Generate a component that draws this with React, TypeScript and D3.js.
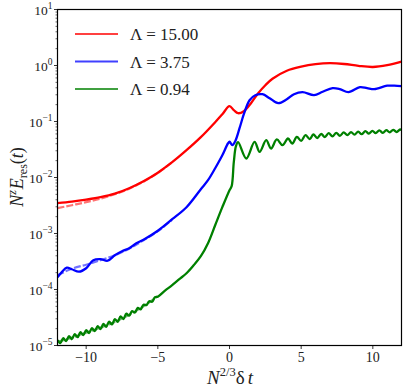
import React, { useEffect } from "react";
import * as d3 from "d3";

// x: N^{2/3} delta t ; values stored as log10(N^z E_res)
const redT = [-12, -11, -10, -9, -8, -7, -6, -5, -4, -3, -2, -1, -0.5, 0, 0.3, 0.6, 1, 1.5, 2, 2.5, 3, 4, 5, 6, 7, 8, 9, 10, 11, 12];
const redLog = [-2.459, -2.432, -2.396, -2.352, -2.289, -2.191, -2.066, -1.914, -1.727, -1.513, -1.28, -1.013, -0.87, -0.727, -0.798, -0.852, -0.816, -0.673, -0.495, -0.352, -0.236, -0.093, -0.021, 0.023, 0.041, 0.027, -0.007, -0.027, 0.005, 0.068];
const redDashT = [-12, -11, -10, -9, -8, -7, -6, -5, -4];
const redDashLog = [-2.548, -2.495, -2.441, -2.379, -2.298, -2.2, -2.075, -1.918, -1.727];

const blueT = [-12, -11.7, -11.35, -11, -10.5, -10, -9.5, -9, -8.5, -8, -7.5, -7, -6.5, -6, -5, -4, -3, -2, -1.5, -1, -0.5, -0.1, 0, 0.2, 0.4, 0.7, 1, 1.4, 1.8, 2.3, 2.8, 3.4, 4, 4.5, 5.1, 5.9, 6.5, 7.2, 7.7, 8.3, 9.1, 9.6, 10.1, 11, 11.5, 12];
const blueLog = [-3.78, -3.69, -3.611, -3.638, -3.682, -3.62, -3.477, -3.459, -3.486, -3.388, -3.316, -3.263, -3.173, -3.11, -2.95, -2.745, -2.53, -2.209, -2.048, -1.834, -1.602, -1.388, -1.361, -1.423, -1.352, -1.12, -0.87, -0.62, -0.53, -0.513, -0.584, -0.673, -0.602, -0.513, -0.477, -0.53, -0.468, -0.405, -0.423, -0.477, -0.387, -0.405, -0.423, -0.361, -0.361, -0.37];
const blueDashT = [-12, -11, -10, -9, -8, -7, -6, -5, -4];
const blueDashLog = [-3.745, -3.629, -3.557, -3.477, -3.388, -3.271, -3.12, -2.959, -2.754];

const greenT = [
  -12, -11.8, -11.6, -11.4, -11.2, -11, -10.8, -10.6, -10.4, -10.2, -10, -9.8, -9.6, -9.4, -9.2, -9,
  -8.8, -8.6, -8.4, -8.2, -8, -7.8, -7.6, -7.4, -7.2, -7, -6.8, -6.6, -6.4, -6.2, -6, -5.8, -5.6, -5.4, -5.2, -5,
  -4.5, -4, -3.5, -3, -2.5, -2, -1.5, -1, -0.5, 0, 0.15, 0.3, 0.45, 0.6,
  1.17, 1.75, 2.1, 2.56, 2.9, 3.3, 3.7, 4.08, 4.38, 4.7, 5.0, 5.3, 5.6, 5.85, 6.12, 6.4, 6.65, 6.92, 7.18,
  7.45, 7.7, 7.97, 8.22, 8.48, 8.72, 8.98, 9.22, 9.48, 9.72, 9.97, 10.2, 10.45, 10.7, 10.94, 11.18, 11.42, 11.66, 11.9, 12,
];
const greenLog = [
  -4.905, -4.959, -4.87, -4.923, -4.834, -4.888, -4.798, -4.852, -4.763, -4.816, -4.727, -4.78, -4.691, -4.745, -4.655, -4.709,
  -4.616, -4.666, -4.573, -4.623, -4.53, -4.577, -4.48, -4.527, -4.43, -4.468, -4.386, -4.411, -4.329, -4.354, -4.271, -4.28, -4.209, -4.218, -4.138, -4.129,
  -4.021, -3.923, -3.816, -3.709, -3.566, -3.405, -3.173, -2.852, -2.53, -2.227, -2.155, -1.727, -1.441, -1.37,
  -1.661, -1.364, -1.543, -1.334, -1.482, -1.321, -1.423, -1.304, -1.393, -1.275, -1.346, -1.245, -1.313, -1.23, -1.295, -1.22, -1.28, -1.209, -1.266,
  -1.202, -1.255, -1.195, -1.245, -1.188, -1.236, -1.18, -1.227, -1.173, -1.216, -1.166, -1.209, -1.159, -1.202, -1.154, -1.195, -1.148, -1.188, -1.143, -1.155,
];
const greenDashT = [-12, -11, -10, -9, -8, -7, -6, -5];
const greenDashLog = [-4.93, -4.86, -4.77, -4.68, -4.58, -4.45, -4.3, -4.12];

const series = [
  { label: "15.00", color: "#ff0000", t: redT, v: redLog, dt: redDashT, dv: redDashLog },
  { label: "3.75", color: "#0000ff", t: blueT, v: blueLog, dt: blueDashT, dv: blueDashLog },
  { label: "0.94", color: "#008000", t: greenT, v: greenLog, dt: greenDashT, dv: greenDashLog },
];

const xTicks = [-10, -5, 0, 5, 10];
const yDecades = [1, 0, -1, -2, -3, -4, -5];

const W = 407, H = 388;
const M = { left: 57.5, top: 9.5, right: 5.5, bottom: 42.5 };
const FONT = "'Liberation Serif', 'DejaVu Serif', serif";

export default function App() {
  useEffect(() => {
    document.body.style.margin = "0";
  }, []);

  const x = d3.scaleLinear().domain([-12, 12]).range([M.left, W - M.right]);
  const y = d3.scaleLog().domain([1e-5, 10]).range([H - M.bottom, M.top]);
  const line = d3
    .line<[number, number]>()
    .x((d) => x(d[0]))
    .y((d) => y(Math.pow(10, d[1])))
    .curve(d3.curveCatmullRom);

  const minor: number[] = [];
  yDecades.slice(1).forEach((e) => {
    for (let k = 2; k <= 9; k++) minor.push(k * Math.pow(10, e));
  });

  const x0 = M.left, x1 = W - M.right, y0 = M.top, y1 = H - M.bottom;

  return (
    <svg width={W} height={H} style={{ display: "block", background: "#fff" }} fontFamily={FONT}>
      <defs>
        <clipPath id="plot">
          <rect x={x0} y={y0} width={x1 - x0} height={y1 - y0} />
        </clipPath>
      </defs>
      <g clipPath="url(#plot)" fill="none">
        {series.map((s) => (
          <g key={s.label}>
            <path
              d={line(s.dt.map((t, i) => [t, s.dv[i]]) as [number, number][]) || ""}
              stroke={s.color}
              strokeWidth={2.2}
              strokeOpacity={0.55}
              strokeDasharray="7,2"
            />
            <path
              d={line(s.t.map((t, i) => [t, s.v[i]]) as [number, number][]) || ""}
              stroke={s.color}
              strokeWidth={2.3}
              strokeLinejoin="round"
            />
          </g>
        ))}
      </g>

      {/* frame */}
      <rect x={x0} y={y0} width={x1 - x0} height={y1 - y0} fill="none" stroke="#000" strokeWidth={1.2} />

      {/* x ticks */}
      {xTicks.map((t) => (
        <g key={t}>
          <line x1={x(t)} x2={x(t)} y1={y1} y2={y1 + 3.5} stroke="#000" strokeWidth={0.8} />
          <text x={x(t)} y={y1 + 16} textAnchor="middle" fontSize={14} fill="#222">
            {t < 0 ? "\u2212" + Math.abs(t) : t}
          </text>
        </g>
      ))}

      {/* y ticks */}
      {minor.map((v, i) => (
        <line key={"m" + i} x1={x0 - 2} x2={x0} y1={y(v)} y2={y(v)} stroke="#000" strokeWidth={0.6} />
      ))}
      {yDecades.map((e) => (
        <g key={e}>
          <line x1={x0 - 3.5} x2={x0} y1={y(Math.pow(10, e))} y2={y(Math.pow(10, e))} stroke="#000" strokeWidth={0.8} />
          <text x={x0 - 5} y={y(Math.pow(10, e)) + 5} textAnchor="end" fontSize={13.5} fill="#222">
            10
            <tspan dy={-6} fontSize={9.5}>{e < 0 ? "\u2212" + Math.abs(e) : e}</tspan>
          </text>
        </g>
      ))}

      {/* axis labels */}
      <text x={230} y={384} textAnchor="middle" fontSize={19} fill="#222">
        <tspan fontStyle="italic">N</tspan>
        <tspan dy={-8} fontSize={12.5}>2/3</tspan>
        <tspan dy={8}>δ</tspan>
        <tspan fontStyle="italic" dx={3}>t</tspan>
      </text>
      <text transform="translate(23,177) rotate(-90)" textAnchor="middle" fontSize={18} fill="#222">
        <tspan fontStyle="italic">N</tspan>
        <tspan dy={-7} fontSize={12} fontStyle="italic">z</tspan>
        <tspan dy={7} fontStyle="italic" dx={1}>E</tspan>
        <tspan dy={4} fontSize={12}>res</tspan>
        <tspan dy={-4}>(</tspan>
        <tspan fontStyle="italic">t</tspan>
        <tspan>)</tspan>
      </text>

      {/* legend */}
      {series.map((s, i) => {
        const ly = 34 + i * 27.5;
        return (
          <g key={"lg" + s.label}>
            <line x1={75} x2={118} y1={ly} y2={ly} stroke={s.color} strokeWidth={2.2} strokeOpacity={0.75} />
            <text x={130} y={ly + 6} fontSize={17} fill="#222">
              Λ = {s.label}
            </text>
          </g>
        );
      })}
    </svg>
  );
}
